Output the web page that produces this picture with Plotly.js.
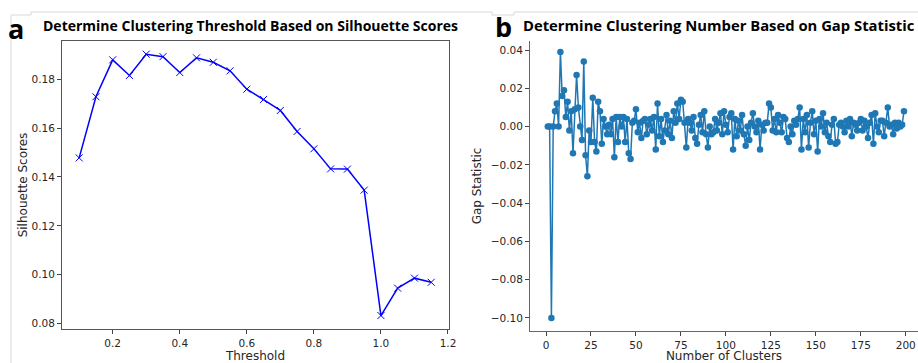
<!DOCTYPE html>
<html>
<head>
<meta charset="utf-8">
<script src="https://cdn.plot.ly/plotly-3.0.1.min.js"></script>
<style>html,body{margin:0;padding:0;background:#fff;overflow:hidden}#chart{width:918px;height:363px}</style>
</head>
<body>
<div id="chart"></div>
<script>
// Panel a: silhouette scores per threshold
const thresholds = [0.10,0.15,0.20,0.25,0.30,0.35,0.40,0.45,0.50,0.55,0.60,0.65,0.70,0.75,0.80,0.85,0.90,0.95,1.00,1.05,1.10,1.15];
const silhouetteScores = [0.1478,0.1728,0.1879,0.1815,0.1902,0.1892,0.1827,0.1887,0.1869,0.1834,0.1759,0.1717,0.1672,0.1586,0.1515,0.1433,0.1432,0.1346,0.0833,0.0945,0.0986,0.0969];

// Panel b: gap statistic per number of clusters (1..199)
const gapValues = [
 0.000, 0.000,-0.100, 0.000, 0.008, 0.012, 0.000, 0.039, 0.016, 0.019,
 0.005, 0.013,-0.002, 0.008,-0.014, 0.009, 0.027, 0.010, 0.000,-0.007,
 0.034,-0.015,-0.026,-0.002,-0.008, 0.015,-0.008,-0.013, 0.013, 0.008,
-0.009, 0.004, 0.000,-0.004, 0.001,-0.004, 0.004,-0.016, 0.005,-0.008,
 0.005, 0.000, 0.005,-0.008, 0.004,-0.014,-0.017, 0.002, 0.003, 0.009,
-0.003, 0.002,-0.006, 0.003, 0.004,-0.004, 0.001, 0.004,-0.002, 0.005,
-0.012, 0.012,-0.005, 0.004,-0.008,-0.002, 0.006,-0.004, 0.003,-0.006,
 0.008, 0.002, 0.012, 0.004, 0.014, 0.013, 0.002,-0.011, 0.004, 0.002,
-0.002, 0.005,-0.006,-0.009, 0.001, 0.006,-0.003, 0.008,-0.004,-0.011,
 0.000,-0.004,-0.003, 0.004,-0.002, 0.002, 0.007,-0.004, 0.008, 0.001,
-0.003, 0.005, 0.007,-0.012, 0.004,-0.005, 0.003,-0.002, 0.006,-0.004,
-0.010, 0.000,-0.007, 0.002, 0.007, 0.000,-0.003, 0.003,-0.012, 0.001,
-0.002, 0.002, 0.002, 0.012, 0.010,-0.002, 0.004,-0.003, 0.006, 0.002,
-0.003, 0.005, 0.004,-0.006,-0.008, 0.000,-0.004, 0.003, 0.001, 0.004,
 0.010,-0.012, 0.004,-0.003, 0.006,-0.011, 0.002, 0.008,-0.004, 0.003,
-0.013, 0.004, 0.000, 0.007,-0.003, 0.002,-0.005,-0.008, 0.001, 0.004,
-0.009,-0.008, 0.001, 0.002, 0.000,-0.003, 0.003, 0.000, 0.004,-0.005,
 0.002, 0.001,-0.002, 0.002, 0.004,-0.002, 0.003, 0.000,-0.006, 0.002,
 0.006,-0.009, 0.007, 0.000,-0.003, 0.003, 0.003,-0.005, 0.002, 0.010,
 0.000, 0.001,-0.004, 0.002,-0.001, 0.002, 0.000, 0.001, 0.008
];
const clusterNumbers = gapValues.map((_, i) => i + 1);

const leftXTicks = [0.2,0.4,0.6,0.8,1.0,1.2];
const leftYTicks = [0.08,0.10,0.12,0.14,0.16,0.18];
const rightXTicks = [0,25,50,75,100,125,150,175,200];
const rightYTicks = [-0.10,-0.08,-0.06,-0.04,-0.02,0.00,0.02,0.04];

const W = 918, H = 363;
const px = x => x / W, py = y => 1 - y / H;

const tickFont = {family: 'DejaVu Sans', size: 10.5, color: '#262626'};
const labFont = {family: 'DejaVu Sans', size: 12, color: '#262626'};

const traces = [
  {x: thresholds, y: silhouetteScores, xaxis: 'x', yaxis: 'y', type: 'scatter', mode: 'lines+markers',
   line: {color: '#0000ff', width: 1.5}, marker: {symbol: 'x-thin', size: 7, color: '#0000ff', line: {color: '#0000ff', width: 1}},
   hoverinfo: 'skip'},
  {x: clusterNumbers, y: gapValues, xaxis: 'x2', yaxis: 'y2', type: 'scatter', mode: 'lines+markers',
   line: {color: '#1f77b4', width: 1.5}, marker: {symbol: 'circle', size: 6.5, color: '#1f77b4'},
   hoverinfo: 'skip'}
];

const layout = {
  width: W, height: H,
  margin: {l: 0, r: 0, t: 0, b: 0},
  paper_bgcolor: '#fff', plot_bgcolor: '#fff',
  showlegend: false,
  xaxis: {domain: [px(62), px(449)], range: [0.0488, 1.203], tickvals: leftXTicks, ticktext: leftXTicks.map(v => v.toFixed(1)),
    ticks: 'outside', ticklen: 4, tickcolor: '#444', showgrid: false, zeroline: false,
    showline: true, mirror: true, linecolor: '#555', linewidth: 1, tickfont: tickFont,
    title: {text: 'Threshold', font: labFont, standoff: 2}, anchor: 'y'},
  yaxis: {domain: [py(329), py(41)], range: [0.0778, 0.1956], tickvals: leftYTicks, ticktext: leftYTicks.map(v => v.toFixed(2)),
    ticks: 'outside', ticklen: 4, tickcolor: '#444', showgrid: false, zeroline: false,
    showline: true, mirror: true, linecolor: '#555', linewidth: 1, tickfont: tickFont,
    title: {text: 'Silhouette Scores', font: labFont, standoff: 1}, anchor: 'x'},
  xaxis2: {domain: [px(530), 1], range: [-8.9, 206.8], tickvals: rightXTicks,
    ticks: 'outside', ticklen: 4, tickcolor: '#444', showgrid: false, zeroline: false,
    showline: true, mirror: false, linecolor: '#666', linewidth: 1, tickfont: tickFont,
    title: {text: 'Number of Clusters', font: labFont, standoff: 2}, anchor: 'y2'},
  yaxis2: {domain: [py(331), py(41)], range: [-0.1068, 0.0447], tickvals: rightYTicks, ticktext: rightYTicks.map(v => (v < 0 ? '\u2212' : '') + Math.abs(v).toFixed(2)),
    ticks: 'outside', ticklen: 4, tickcolor: '#444', showgrid: false, zeroline: false,
    showline: true, mirror: false, linecolor: '#666', linewidth: 1, tickfont: tickFont,
    title: {text: 'Gap Statistic', font: labFont, standoff: 6}, anchor: 'x2'},
  shapes: [
    {type: 'path', xref: 'paper', yref: 'paper', path: `M ${px(11)} ${py(363)} L ${px(11)} ${py(15)} L ${px(31)} ${py(15)} L ${px(31)} ${py(12)} L ${px(492)} ${py(12)} L ${px(492)} ${py(15)} L ${px(514)} ${py(15)} L ${px(514)} ${py(12)} L 1 ${py(12)}`,
     line: {color: '#d9d9d9', width: 1}}
  ],
  annotations: [
    {text: '<b>a</b>', xref: 'paper', yref: 'paper', x: px(16), y: py(28), xanchor: 'center', yanchor: 'middle', showarrow: false,
     font: {family: 'Open Sans', size: 27, color: '#000'}},
    {text: '<b>Determine Clustering Threshold Based on Silhouette Scores</b>', xref: 'paper', yref: 'paper', x: px(250), y: py(25), xanchor: 'center', yanchor: 'middle', showarrow: false,
     font: {family: 'Open Sans', size: 14, color: '#000'}},
    {text: '<b>b</b>', xref: 'paper', yref: 'paper', x: px(503), y: py(27), xanchor: 'center', yanchor: 'middle', showarrow: false,
     font: {family: 'Open Sans', size: 27, color: '#000'}},
    {text: '<b>Determine Clustering Number Based on Gap Statistic</b>', xref: 'paper', yref: 'paper', x: px(719), y: py(25), xanchor: 'center', yanchor: 'middle', showarrow: false,
     font: {family: 'Open Sans', size: 14.8, color: '#000'}}
  ]
};

Plotly.newPlot('chart', traces, layout, {staticPlot: true, displayModeBar: false});
</script>
</body>
</html>
